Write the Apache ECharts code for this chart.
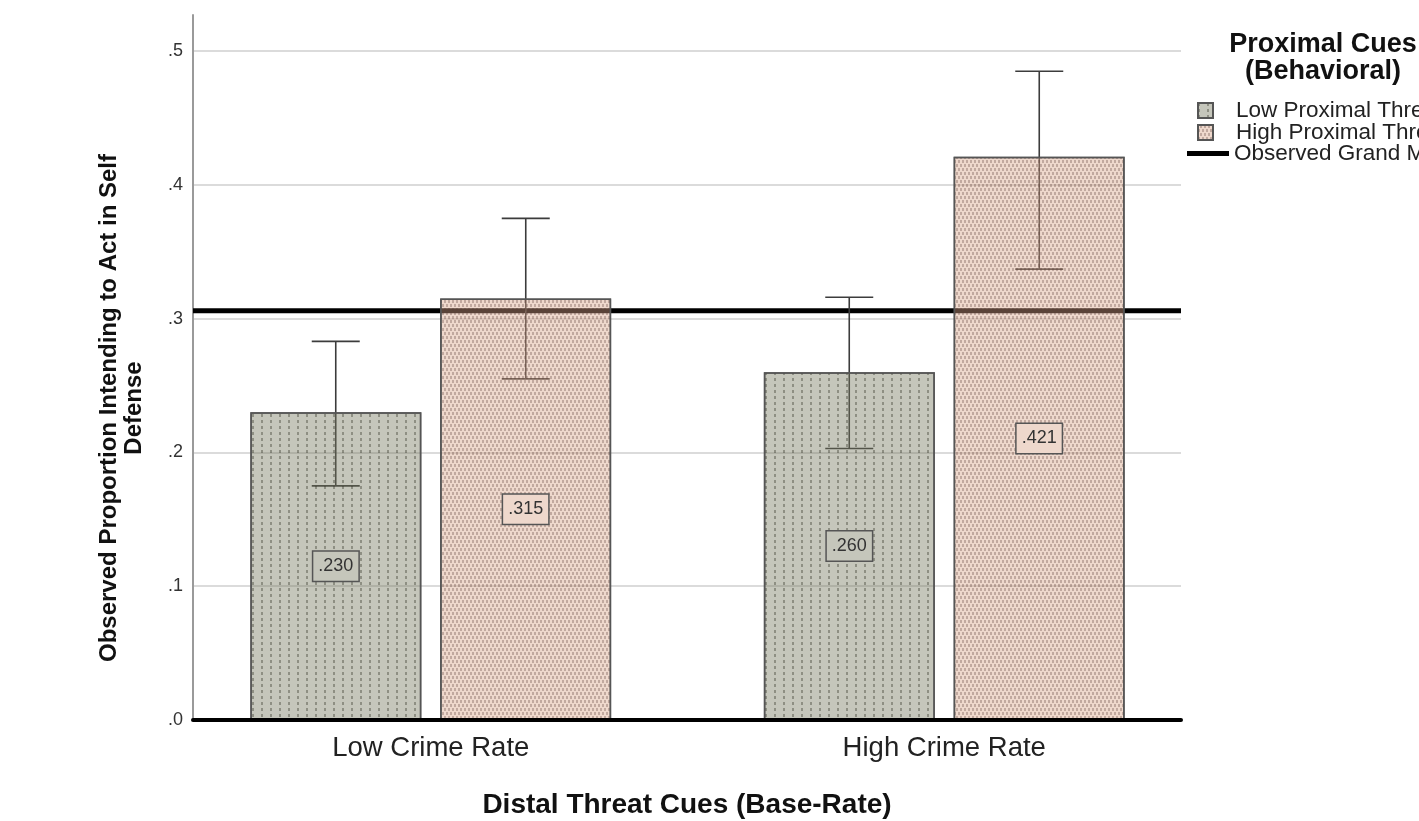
<!DOCTYPE html>
<html>
<head>
<meta charset="utf-8">
<script src="https://cdn.jsdelivr.net/npm/echarts@6/dist/echarts.min.js"></script>
<style>
html,body{margin:0;padding:0;background:#fff;}
#chart{width:1419px;height:821px;}
</style>
</head>
<body>
<div id="chart"></div>
<script>
// ---- data ----
const categories = ['Low Crime Rate', 'High Crime Rate'];
const seriesNames = ['Low Proximal Threat', 'High Proximal Threat'];
const meanName = 'Observed Grand Mean';
const lowProximal = [0.230, 0.260];
const highProximal = [0.315, 0.421];
const lowProximalCI = [[0.175, 0.283], [0.203, 0.316]];
const highProximalCI = [[0.255, 0.375], [0.337, 0.485]];
const grandMean = 0.306;
const yTicks = [0, 0.1, 0.2, 0.3, 0.4, 0.5];
const yMax = 0.527;

const FONT = "'Liberation Sans', Arial, sans-serif";
const BAR_W = 171;
const OFFSET = 95;

const chart = echarts.init(document.getElementById('chart'), null, {renderer: 'canvas'});

function fmtTick(v) { return v.toFixed(1).replace(/^0/, ''); }
function fmtVal(v) { return v.toFixed(3).replace(/^0/, ''); }

function errorRender(offset) {
  return function (params, api) {
    const idx = api.value(0);
    const lo = api.coord([idx, api.value(1)]);
    const hi = api.coord([idx, api.value(2)]);
    const x = lo[0] + offset;
    const cap = 24;
    const style = {stroke: '#3c3c3c', lineWidth: 1.6};
    return {
      type: 'group',
      children: [
        {type: 'line', shape: {x1: x, y1: lo[1], x2: x, y2: hi[1]}, style},
        {type: 'line', shape: {x1: x - cap, y1: lo[1], x2: x + cap, y2: lo[1]}, style},
        {type: 'line', shape: {x1: x - cap, y1: hi[1], x2: x + cap, y2: hi[1]}, style}
      ]
    };
  };
}

const labelBase = {
  show: true,
  position: 'inside',
  fontFamily: FONT,
  fontSize: 18,
  color: '#333',
  borderColor: '#555',
  borderWidth: 1.5,
  padding: [6, 5, 5, 5],
  formatter: p => fmtVal(p.value)
};

const legendText = {fontFamily: FONT, fontSize: 22.5, color: '#222', lineHeight: 22};

const option = {
  animation: false,
  backgroundColor: '#fff',
  textStyle: {fontFamily: FONT},
  grid: [
    {left: 193, width: 988, top: 15, bottom: 101, outerBoundsMode: 'none', containLabel: false},
    {left: 174, width: 1027, top: 15, bottom: 101, outerBoundsMode: 'none', containLabel: false}
  ],
  xAxis: [
    {
      gridIndex: 0, type: 'value', min: 0, max: 1, z: 10,
      axisLine: {show: true, lineStyle: {color: '#000', width: 4}},
      axisTick: {show: false}, axisLabel: {show: false}, splitLine: {show: false},
      name: 'Distal Threat Cues (Base-Rate)', nameLocation: 'middle', nameGap: 71,
      nameTextStyle: {fontFamily: FONT, fontSize: 28, fontWeight: 'bold', color: '#111'}
    },
    {
      gridIndex: 1, type: 'category', data: categories,
      axisLine: {show: false}, axisTick: {show: false},
      axisLabel: {fontFamily: FONT, fontSize: 27.5, color: '#222', margin: 14}
    }
  ],
  yAxis: [
    {
      gridIndex: 0, type: 'value', min: 0, max: yMax, interval: 0.1,
      axisLine: {show: true, lineStyle: {color: '#9a9a9a', width: 2}},
      axisTick: {show: false},
      axisLabel: {
        fontFamily: FONT, fontSize: 18, color: '#333', margin: 10, showMaxLabel: false,
        formatter: v => (yTicks.some(t => Math.abs(t - v) < 1e-9) ? fmtTick(v) : '')
      },
      splitLine: {show: true, showMaxLine: false, lineStyle: {color: '#cfcfcf', width: 1.5}}
    },
    {
      gridIndex: 1, type: 'value', min: 0, max: yMax, show: false,
      splitLine: {show: false}
    }
  ],
  legend: [
    {
      left: 1197, top: 99, padding: 0, icon: 'rect',
      itemWidth: 15, itemHeight: 15,
      textStyle: Object.assign({padding: [0, 0, 0, 18]}, legendText),
      data: [seriesNames[0]]
    },
    {
      left: 1197, top: 121, padding: 0, icon: 'rect',
      itemWidth: 15, itemHeight: 15,
      textStyle: Object.assign({padding: [0, 0, 0, 18]}, legendText),
      data: [seriesNames[1]]
    },
    {
      left: 1187, top: 142, padding: 0,
      itemWidth: 42, itemHeight: 5,
      textStyle: Object.assign({padding: [0, 0, 0, 0]}, legendText),
      data: [{name: meanName, icon: 'rect'}]
    }
  ],
  graphic: [
    {
      type: 'text', x: 1323, y: 58,
      style: {
        text: 'Proximal Cues\n(Behavioral)', textAlign: 'center', textVerticalAlign: 'middle',
        font: "bold 27px " + FONT, fill: '#111', lineHeight: 27
      }
    },
    {
      type: 'text', x: 122, y: 408, rotation: Math.PI / 2,
      style: {
        text: 'Observed Proportion Intending to Act in Self\nDefense', textAlign: 'center', textVerticalAlign: 'middle',
        font: "bold 24px " + FONT, fill: '#111', lineHeight: 25
      }
    }
  ],
  series: [
    {
      name: meanName, type: 'line', xAxisIndex: 0, yAxisIndex: 0, z: 1,
      data: [[0, grandMean], [1, grandMean]], symbol: 'none', silent: true,
      color: '#000',
      itemStyle: {color: '#000'},
      lineStyle: {color: '#000', width: 5}
    },
    {
      name: 'lowCI', type: 'custom', xAxisIndex: 1, yAxisIndex: 1, z: 2, silent: true,
      renderItem: errorRender(-OFFSET),
      data: lowProximalCI.map((c, i) => [i, c[0], c[1]])
    },
    {
      name: 'highCI', type: 'custom', xAxisIndex: 1, yAxisIndex: 1, z: 2, silent: true,
      renderItem: errorRender(OFFSET),
      data: highProximalCI.map((c, i) => [i, c[0], c[1]])
    },
    {
      name: seriesNames[0], type: 'bar', xAxisIndex: 1, yAxisIndex: 1, z: 3,
      barWidth: BAR_W, barGap: '11%',
      data: lowProximal,
      itemStyle: {
        color: 'rgba(117,119,93,0.42)', borderColor: '#555', borderWidth: 1.5,
        decal: {symbol: 'rect', symbolSize: 1, dashArrayX: [1.5, 7], dashArrayY: [3, 3], color: 'rgba(40,40,30,0.35)'}
      },
      label: Object.assign({}, labelBase, {backgroundColor: '#c5c6bb'})
    },
    {
      name: seriesNames[1], type: 'bar', xAxisIndex: 1, yAxisIndex: 1, z: 3,
      barWidth: BAR_W, barGap: '11%',
      data: highProximal,
      itemStyle: {
        color: 'rgba(214,162,133,0.42)', borderColor: '#555', borderWidth: 1.5,
        decal: {symbol: 'rect', symbolSize: 1, dashArrayX: [[2, 2], [0, 2, 2, 0]], dashArrayY: [3, 1], color: 'rgba(90,60,55,0.3)'}
      },
      label: Object.assign({}, labelBase, {backgroundColor: '#eed8cc'})
    }
  ]
};

chart.setOption(option);
</script>
</body>
</html>
